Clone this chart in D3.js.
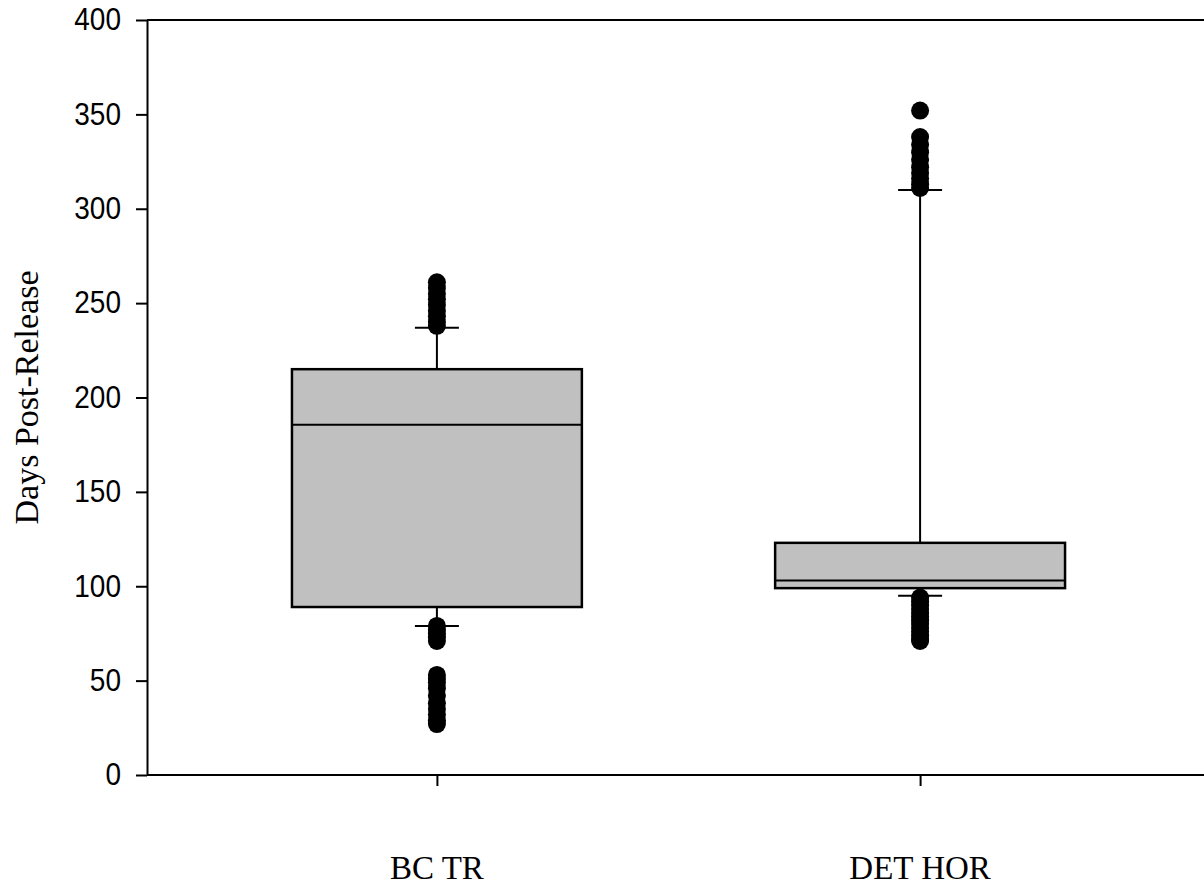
<!DOCTYPE html>
<html>
<head>
<meta charset="utf-8">
<script src="https://cdn.jsdelivr.net/npm/d3@7"></script>
<style>
  html, body { margin: 0; padding: 0; background: #fff; }
  svg { display: block; }
</style>
</head>
<body>
<svg id="chart" width="1204" height="886"></svg>
<script>
// Group labels and box statistics (days post-release)
const categories = ["BC TR", "DET HOR"];
const lowerWhisker = [79, 95];
const firstQuartile = [89, 99];
const medianValue = [185.5, 103];
const thirdQuartile = [215, 123];
const upperWhisker = [237, 310];

// Points beyond the whiskers, per group
const outliersBCTR = [261, 258, 255, 252, 249, 246, 243, 240, 238,
                      79, 77, 75, 73, 71,
                      53, 51, 49, 46, 42, 38, 35, 32, 29, 27];
const outliersDETHOR = [352, 338, 334, 330, 326, 322, 319, 316, 313, 311,
                        94, 92, 90, 88, 86, 84, 82, 80, 78, 76, 74, 72, 71];
const outlierSets = [outliersBCTR, outliersDETHOR];

const yTicks = [0, 50, 100, 150, 200, 250, 300, 350, 400];

const svg = d3.select("#chart");
const plotLeft = 147, plotTop = 20, plotBottom = 775, plotRight = 1204;

const y = d3.scaleLinear().domain([0, 400]).range([plotBottom, plotTop]);
const x = d3.scalePoint().domain(categories).range([plotLeft, 1210]).padding(0.6);
const boxWidth = x.step() * 0.6;
const capHalf = 22;

// Frame: top border line
svg.append("line")
  .attr("x1", plotLeft).attr("x2", plotRight)
  .attr("y1", y(400)).attr("y2", y(400))
  .attr("stroke", "#000").attr("stroke-width", 2);

// Y axis
const yAxis = svg.append("g")
  .attr("transform", `translate(${plotLeft},0)`)
  .call(d3.axisLeft(y).tickValues(yTicks).tickSize(11).tickPadding(15).tickSizeOuter(0));
yAxis.select(".domain").attr("stroke-width", 2);
yAxis.selectAll(".tick line").attr("stroke-width", 2);
yAxis.selectAll(".tick text")
  .attr("font-family", "Liberation Sans, Arial, sans-serif")
  .attr("font-size", 28)
  .attr("transform", "scale(1,1.1)")
  .attr("fill", "#000");

// X axis
const xAxis = svg.append("g")
  .attr("transform", `translate(0,${plotBottom})`)
  .call(d3.axisBottom(x).tickSize(11).tickSizeOuter(0).tickFormat(""));
xAxis.select(".domain").attr("d", `M${plotLeft},0H${plotRight}`).attr("stroke-width", 2);
xAxis.selectAll(".tick line").attr("stroke-width", 2);

// Category labels
svg.selectAll("text.cat")
  .data(categories)
  .join("text")
  .attr("class", "cat")
  .attr("x", d => x(d))
  .attr("y", 879)
  .attr("text-anchor", "middle")
  .attr("font-family", "Liberation Serif, 'Times New Roman', serif")
  .attr("font-size", 33)
  .attr("fill", "#000")
  .text(d => d);

// Y axis title
svg.append("text")
  .attr("transform", `translate(38,${(plotTop + plotBottom) / 2}) rotate(-90)`)
  .attr("text-anchor", "middle")
  .attr("font-family", "Liberation Serif, 'Times New Roman', serif")
  .attr("font-size", 34)
  .attr("fill", "#000")
  .text("Days Post-Release");

// Boxes
const groups = svg.selectAll("g.box")
  .data(categories.map((c, i) => ({
    c, lw: lowerWhisker[i], q1: firstQuartile[i], med: medianValue[i],
    q3: thirdQuartile[i], uw: upperWhisker[i], out: outlierSets[i]
  })))
  .join("g")
  .attr("class", "box");

// Whisker stems
groups.append("line")
  .attr("x1", d => x(d.c)).attr("x2", d => x(d.c))
  .attr("y1", d => y(d.q3)).attr("y2", d => y(d.uw))
  .attr("stroke", "#000").attr("stroke-width", 2);
groups.append("line")
  .attr("x1", d => x(d.c)).attr("x2", d => x(d.c))
  .attr("y1", d => y(d.q1)).attr("y2", d => y(d.lw))
  .attr("stroke", "#000").attr("stroke-width", 2);

// Whisker caps
groups.append("line")
  .attr("x1", d => x(d.c) - capHalf).attr("x2", d => x(d.c) + capHalf)
  .attr("y1", d => y(d.uw)).attr("y2", d => y(d.uw))
  .attr("stroke", "#000").attr("stroke-width", 2);
groups.append("line")
  .attr("x1", d => x(d.c) - capHalf).attr("x2", d => x(d.c) + capHalf)
  .attr("y1", d => y(d.lw)).attr("y2", d => y(d.lw))
  .attr("stroke", "#000").attr("stroke-width", 2);

// Box body
groups.append("rect")
  .attr("x", d => x(d.c) - boxWidth / 2)
  .attr("width", boxWidth)
  .attr("y", d => y(d.q3))
  .attr("height", d => y(d.q1) - y(d.q3))
  .attr("fill", "#c0c0c0")
  .attr("stroke", "#000").attr("stroke-width", 2.5);

// Median line
groups.append("line")
  .attr("x1", d => x(d.c) - boxWidth / 2).attr("x2", d => x(d.c) + boxWidth / 2)
  .attr("y1", d => y(d.med)).attr("y2", d => y(d.med))
  .attr("stroke", "#000").attr("stroke-width", 2);

// Outlier points
groups.each(function(d) {
  d3.select(this).selectAll("circle")
    .data(d.out)
    .join("circle")
    .attr("cx", x(d.c))
    .attr("cy", v => y(v))
    .attr("r", 9)
    .attr("fill", "#000");
});
</script>
</body>
</html>
